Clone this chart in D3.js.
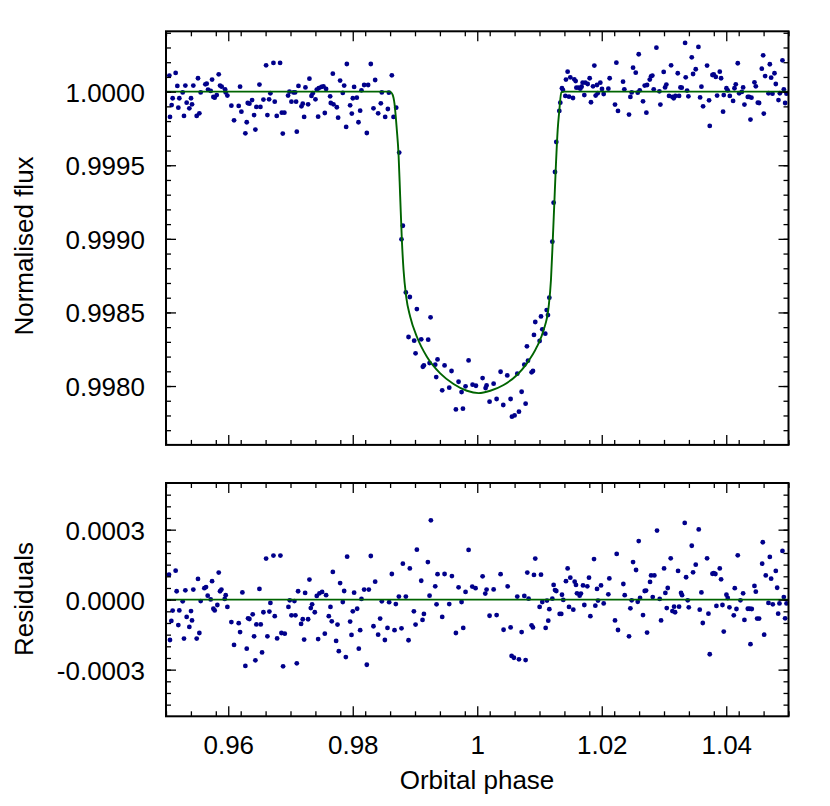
<!DOCTYPE html>
<html>
<head>
<meta charset="utf-8">
<script src="https://cdn.jsdelivr.net/npm/d3@7"></script>
<style>
  body { margin: 0; background: #fff; }
  svg { display: block; }
</style>
</head>
<body>
<div id="chart"></div>
<script>
// light curve, normalised flux vs orbital phase
let fluxPhase = [
  0.95054,0.95064,0.95091,0.95107,0.95155,0.95182,0.95198,0.95214,0.95268,0.95289,
  0.95311,0.95332,0.95375,0.95402,0.95418,0.95439,0.95493,0.95514,0.95536,0.95557,
  0.95632,0.95654,0.95675,0.95718,0.95740,0.95761,0.95782,0.95815,0.95847,0.95868,
  0.95895,0.95949,0.95959,0.95986,0.96050,0.96093,0.96168,0.96190,0.96211,0.96275,
  0.96297,0.96313,0.96340,0.96383,0.96415,0.96436,0.96452,0.96501,0.96517,0.96565,
  0.96608,0.96629,0.96656,0.96677,0.96726,0.96747,0.96779,0.96833,0.96860,0.96876,
  0.96902,0.96961,0.96983,0.97015,0.97047,0.97074,0.97090,0.97101,0.97128,0.97176,
  0.97197,0.97219,0.97240,0.97283,0.97304,0.97337,0.97358,0.97401,0.97422,0.97444,
  0.97454,0.97497,0.97529,0.97551,0.97572,0.97637,0.97647,0.97680,0.97690,0.97744,
  0.97765,0.97797,0.97840,0.97862,0.97894,0.97905,0.97958,0.97985,0.98001,0.98022,
  0.98065,0.98092,0.98119,0.98140,0.98183,0.98226,0.98247,0.98290,0.98333,0.98360,
  0.98408,0.98451,0.98467,0.98521,0.98564,0.98580,0.98628,0.98655,0.98698,
  0.98746,0.98805,0.98783,0.98853,0.98917,0.99030,0.99250,0.98896,0.98987,0.99100,
  0.99212,0.99009,0.99126,0.99143,0.99234,0.99325,0.99362,0.99341,0.99475,0.99437,
  0.99587,0.99550,0.99700,0.99748,0.99657,0.99770,0.99812,0.99861,0.99925,0.99979,
  1.00086,1.00134,1.00150,1.00198,1.00263,1.00311,1.00375,1.00418,1.00482,1.00536,
  1.00557,1.00600,1.00670,1.00643,1.00713,1.00777,1.00756,1.00815,1.00873,1.00895,
  1.00798,1.00911,1.01002,1.00932,1.01045,1.01093,1.01024,1.01115,1.01136,1.01158,
  1.01206,1.01227,1.01249,1.01270,
  1.01318,1.01334,1.01361,1.01377,1.01415,1.01425,1.01452,1.01474,1.01495,1.01538,
  1.01559,1.01581,1.01592,1.01629,1.01656,1.01677,1.01693,1.01720,1.01736,1.01774,
  1.01806,1.01827,1.01860,1.01881,1.01902,1.01924,1.01935,1.01977,1.02004,1.02031,
  1.02106,1.02127,1.02213,1.02235,1.02261,1.02342,1.02363,1.02438,1.02460,1.02481,
  1.02503,1.02546,1.02578,1.02594,1.02610,1.02663,1.02690,1.02717,1.02728,1.02771,
  1.02792,1.02813,1.02835,1.02878,1.02926,1.02942,1.02995,1.03017,1.03038,1.03081,
  1.03114,1.03135,1.03156,1.03183,1.03221,1.03242,1.03264,1.03285,1.03339,1.03349,
  1.03371,1.03392,1.03446,1.03467,1.03510,1.03553,1.03580,1.03601,1.03628,1.03692,
  1.03724,1.03735,1.03778,1.03799,1.03832,1.03853,1.03896,1.03917,1.03949,1.03960,
  1.04003,1.04024,1.04057,1.04110,1.04132,1.04153,1.04185,1.04207,1.04250,1.04271,
  1.04292,1.04346,1.04367,1.04389,1.04405,1.04453,1.04475,1.04507,1.04528,1.04571,
  1.04593,1.04603,1.04625,1.04678,1.04700,1.04721,1.04743,1.04775,1.04796,1.04839,
  1.04861,1.04903,1.04925,1.04946,1.04968
];
let fluxValue = [
  1.000109,0.999828,0.999909,0.999955,1.000127,1.000039,0.999891,0.999955,0.999995,0.999835,
  1.000041,0.999925,0.999887,0.999955,0.999914,1.000041,0.999835,1.000091,0.999853,0.999995,
  1.000050,1.000054,1.000014,1.000005,1.000082,0.999964,0.999959,0.999977,1.000118,1.000041,
  1.000034,1.000016,0.999995,0.999973,0.999905,0.999805,0.999903,1.000034,0.999864,0.999717,
  0.999792,0.999923,0.999918,0.999943,0.999841,0.999742,0.999896,1.000048,0.999896,0.999946,
  1.000179,0.999841,0.999948,0.999989,1.000195,0.999932,0.999835,1.000195,0.999857,0.999715,
  0.999857,0.999973,1.000000,0.999932,0.999995,0.999995,0.999932,0.999728,1.000039,0.999900,
  0.999918,0.999828,1.000029,0.999914,1.000088,0.999971,0.999989,0.999948,1.000014,0.999830,
  1.000023,1.000032,1.000036,0.999855,1.000018,0.999968,0.999923,1.000122,0.999914,0.999894,
  0.999823,1.000075,0.999991,1.000041,0.999760,1.000188,0.999907,0.999851,0.999955,1.000032,
  0.999959,0.999792,0.999871,1.000009,1.000045,0.999719,1.000045,1.000188,0.999887,1.000079,
  0.999853,0.999921,0.999995,0.999828,0.999882,0.999993,1.000111,0.999828,0.999891,
  0.999586,0.999089,0.998997,0.998636,0.998605,0.998523,0.998467,0.998333,0.998308,0.998317,
  0.998315,0.998222,0.998131,0.998140,0.998156,0.998145,0.998181,0.998061,0.998140,0.997971,
  0.998102,0.997989,0.998029,0.997959,0.997841,0.997846,0.997998,0.998174,0.998009,0.998002,
  0.998054,0.997986,0.998004,0.997894,0.998016,0.997912,0.998097,0.997871,0.998072,0.997912,
  0.997792,0.997800,0.997826,0.998084,0.997961,0.997880,0.998145,0.998172,0.998093,0.998102,
  0.998270,0.998347,0.998306,0.998435,0.998385,0.998356,0.998473,0.998516,0.998482,0.998600,
  0.998981,0.999246,0.999454,0.999658,
  0.999869,0.999925,1.000023,1.000011,0.999971,1.000082,1.000136,0.999966,1.000097,0.999957,
  1.000084,1.000072,1.000027,1.000027,1.000020,1.000034,1.000061,0.999977,1.000061,1.000052,
  1.000091,0.999928,1.000036,1.000177,0.999973,1.000045,0.999989,1.000061,1.000018,0.999984,
  1.000020,1.000091,0.999912,1.000197,0.999869,1.000068,1.000016,0.999844,0.999964,0.999995,
  1.000163,1.000129,0.999993,1.000254,1.000009,0.999934,1.000041,0.999857,1.000045,1.000082,
  1.000104,1.000109,1.000016,1.000299,1.000002,0.999912,1.000134,1.000029,1.000048,0.999971,
  1.000179,0.999964,0.999955,0.999971,1.000125,0.999971,1.000029,1.000027,1.000331,1.000097,
  1.000007,0.999968,1.000233,1.000120,1.000152,1.000304,0.999961,1.000034,0.999900,1.000177,
  0.999941,0.999767,1.000113,1.000118,1.000100,0.999973,1.000136,1.000091,0.999864,0.999977,
  1.000023,1.000009,0.999971,0.999937,1.000023,1.000050,1.000193,0.999989,0.999998,1.000029,
  0.999912,0.999964,0.999964,0.999810,0.999959,1.000063,1.000036,0.999925,0.999923,1.000156,
  1.000247,0.999851,1.000106,0.999989,1.000186,1.000095,0.999986,1.000125,1.000052,0.999943,
  0.999989,1.000213,1.000016,0.999923,0.999986
];

// transit model curve
let modelPhase = [0.950, 0.9860, 0.9864, 0.9867, 0.98708, 0.98735, 0.98762, 0.98789, 0.98816,
  0.98858, 0.98923, 0.99030, 0.99191, 0.99405, 0.99619, 0.99834, 1.00021, 1.00209, 1.00423,
  1.00638, 1.00798, 1.00959, 1.01066, 1.01147, 1.01184, 1.01211, 1.01238, 1.01265, 1.01292,
  1.01318, 1.01350, 1.0140, 1.050];
let modelFlux = [1.0, 1.0, 0.99998, 0.99992, 0.99974, 0.999581, 0.999287, 0.998992, 0.998788,
  0.998607, 0.998471, 0.998335, 0.998199, 0.998086, 0.998014, 0.997968, 0.997952, 0.997968, 0.998007,
  0.998075, 0.998154, 0.998267, 0.998380, 0.998539, 0.998720, 0.998969, 0.999241, 0.999513, 0.999740,
  0.999870, 0.999995, 1.0, 1.0];

// residuals (in ppm of flux)
let residPhase = [
  0.95048,0.95064,0.95086,0.95107,0.95155,0.95171,0.95198,0.95214,0.95268,0.95289,
  0.95311,0.95332,0.95375,0.95402,0.95418,0.95439,0.95493,0.95514,0.95536,0.95557,
  0.95616,0.95643,0.95670,0.95718,0.95740,0.95761,0.95782,0.95825,0.95847,0.95868,
  0.95890,0.95943,0.95959,0.95986,0.96050,0.96093,0.96168,0.96190,0.96227,0.96275,
  0.96297,0.96318,0.96340,0.96393,0.96415,0.96436,0.96452,0.96501,0.96522,0.96543,
  0.96565,0.96608,0.96629,0.96661,0.96677,0.96726,0.96747,0.96785,0.96838,0.96854,
  0.96881,0.96908,0.96967,0.96988,0.97015,0.97063,0.97079,0.97101,0.97122,0.97170,
  0.97197,0.97219,0.97235,0.97283,0.97304,0.97326,0.97347,0.97390,0.97422,0.97444,
  0.97465,0.97508,0.97551,0.97572,0.97615,0.97642,0.97663,0.97680,0.97733,0.97755,
  0.97776,0.97797,0.97840,0.97862,0.97889,0.97910,0.97958,0.97980,0.98001,0.98022,
  0.98071,0.98097,0.98119,0.98140,0.98183,0.98226,0.98258,0.98290,0.98333,0.98360,
  0.98408,0.98440,
  0.98467,0.98516,0.98558,0.98585,0.98628,0.98671,0.98692,0.98741,0.98783,0.98805,
  0.98853,0.98896,0.98917,0.98982,0.99009,0.99030,0.99100,0.99121,0.99143,0.99207,
  0.99234,0.99255,0.99325,0.99346,0.99362,0.99437,0.99475,0.99550,0.99593,0.99657,
  0.99700,0.99748,0.99775,0.99812,0.99861,0.99920,0.99973,1.00086,1.00129,1.00150,
  1.00198,1.00263,1.00311,1.00375,1.00423,1.00488,1.00536,1.00552,1.00589,1.00670,
  1.00643,1.00713,1.00756,1.00777,1.00804,1.00825,1.00873,1.00895,1.00911,1.00932,
  1.01002,1.01024,1.01045,1.01099,1.01120,1.01141,1.01158,1.01206,1.01227,1.01249,
  1.01270,1.01324,1.01350,1.01361,1.01382,1.01425,1.01452,1.01474,1.01495,1.01543,
  1.01565,1.01586,1.01602,1.01645,1.01666,1.01699,1.01720,1.01768,1.01795,1.01817,
  1.01876,1.01897,1.01924,1.01940,1.01988,1.02031,1.02106,1.02122,1.02213,1.02240,
  1.02261,1.02347,1.02369,1.02438,1.02460,1.02481,1.02503,1.02551,1.02578,1.02594,
  1.02615,1.02663,1.02690,1.02712,1.02728,1.02776,1.02792,1.02819,1.02845,1.02888,
  1.02931,1.02953,1.03001,1.03022,1.03044,1.03060,1.03108,1.03135,1.03162,1.03178,
  1.03226,1.03242,1.03274,1.03290,1.03333,1.03355,1.03381,1.03398,1.03446,1.03467,
  1.03510,1.03558,1.03574,1.03601,1.03623,1.03692,1.03714,1.03735,1.03778,1.03799,
  1.03826,1.03842,1.03896,1.03917,1.03939,1.03960,1.04003,1.04024,1.04051,1.04121,
  1.04137,1.04164,1.04185,1.04228,1.04271,1.04292,1.04346,1.04378,1.04389,1.04410,
  1.04453,1.04475,1.04496,1.04528,1.04577,1.04587,1.04609,1.04635,1.04678,1.04700,
  1.04721,1.04748,1.04796,1.04818,1.04834,1.04855,1.04903,1.04925,1.04946,1.04968
];
let residPpm = [
  107,-173,-91,-47,124,36,-109,-46,-7,-167,
  40,-74,-117,-49,-89,43,-167,89,-143,-6,
  49,54,17,1,79,-39,-46,-23,116,36,
  43,3,19,-31,-96,-194,-101,-139,31,-284,
  -210,-80,-83,-63,-157,-260,-106,46,-106,-226,
  -54,176,-157,-51,-14,189,-71,-166,189,-143,
  -286,-146,-31,-3,-67,-6,-67,-273,36,-104,
  -84,-171,29,-84,86,-36,-20,-54,16,-169,
  27,33,-146,19,-71,-31,-93,119,-177,-107,
  -221,71,-10,37,-246,184,-94,-151,-50,30,
  -39,-210,-131,3,43,-279,43,187,-114,77,
  -150,-81,
  -7,-173,-121,-11,110,-131,-19,13,-123,154,
  13,-174,134,-50,-107,214,81,-87,-61,161,
  17,340,57,-20,109,-74,110,-19,101,-143,
  53,-10,-121,33,213,56,49,100,26,43,
  -69,44,-66,109,-129,57,-119,-241,-249,-256,
  13,-139,16,-259,116,4,-110,-119,106,176,
  -31,107,-10,-121,-4,-90,-41,4,63,41,
  37,-61,-61,21,-1,79,134,-31,94,-43,
  77,63,27,17,26,61,-23,57,94,-71,
  174,-26,46,-4,61,-16,23,91,-89,196,
  -130,67,19,-157,-37,-3,161,127,-9,251,
  7,-66,37,39,-141,76,104,11,104,296,
  3,-89,134,29,-36,50,177,-49,-30,-54,
  123,-30,29,19,329,96,-3,-33,231,117,
  150,301,-43,31,-100,177,-60,-234,111,114,
  110,-27,134,87,-23,-137,21,7,-33,-67,
  49,-40,190,-3,27,-87,-39,-39,-191,-40,
  59,34,-81,-81,154,246,-150,104,-14,183,
  90,-20,123,51,-60,-16,209,11,-80,-16
];

let residModelPhase = [0.95, 1.05];
let residModelValue = [0, 0];

// axis ticks
let phaseTicks = [0.96, 0.98, 1.0, 1.02, 1.04];
let fluxTicks = [0.9980, 0.9985, 0.9990, 0.9995, 1.0000];
let residTicks = [-0.0003, 0, 0.0003];

let width = 830;
let height = 806;

let x = d3.scaleLinear().domain([0.95, 1.05]).range([166, 788.5]);
let yFlux = d3.scaleLinear().domain([0.9976, 1.00041]).range([444.9, 31.3]);
let yRes = d3.scaleLinear().domain([-0.0005, 0.0005]).range([716.3, 483]);

let fluxData = fluxPhase.map((p, i) => ({ phase: p, value: fluxValue[i] }));
let modelData = modelPhase.map((p, i) => ({ phase: p, value: modelFlux[i] }));
let residData = residPhase.map((p, i) => ({ phase: p, value: residPpm[i] * 1e-6 }));
let residModel = residModelPhase.map((p, i) => ({ phase: p, value: residModelValue[i] }));

let phaseMinor = d3.range(0, 26).map(i => +(0.95 + i * 0.004).toFixed(3));
let fluxMinor = d3.range(0, 28).map(i => +(0.9977 + i * 0.0001).toFixed(4));
let residMinor = d3.range(0, 19).map(i => +(-0.00045 + i * 0.00005).toFixed(5));

const font = "'Liberation Sans', Arial, Helvetica, sans-serif";
const fontSize = 26;

let svg = d3.select("#chart").append("svg")
  .attr("width", width)
  .attr("height", height)
  .style("background", "#fff");

function drawPanel(y, data, model, yMajor, yMinor, yFmt, xLabels) {
  let g = svg.append("g");
  let y0 = y.range()[0], y1 = y.range()[1];

  // points
  g.append("g").selectAll("circle")
    .data(data)
    .enter()
    .append("circle")
    .attr("cx", d => x(d.phase))
    .attr("cy", d => y(d.value))
    .attr("r", 2.4)
    .attr("fill", "#00008b");

  // model line
  g.append("path")
    .datum(model)
    .attr("fill", "none")
    .attr("stroke", "#006400")
    .attr("stroke-width", 1.9)
    .attr("d", d3.line().x(d => x(d.phase)).y(d => y(d.value)).curve(d3.curveMonotoneX));

  // minor ticks, all four sides
  let minorAxes = [
    [d3.axisBottom(x).tickValues(phaseMinor), "translate(0," + y0 + ")"],
    [d3.axisTop(x).tickValues(phaseMinor), "translate(0," + y1 + ")"],
    [d3.axisLeft(y).tickValues(yMinor), "translate(166,0)"],
    [d3.axisRight(y).tickValues(yMinor), "translate(788.5,0)"]
  ];
  minorAxes.forEach(a => {
    g.append("g").attr("transform", a[1])
      .call(a[0].tickSize(-5).tickFormat(""))
      .call(s => s.select(".domain").remove());
  });

  // major ticks
  let bottom = g.append("g").attr("transform", "translate(0," + y0 + ")")
    .call(d3.axisBottom(x).tickValues(phaseTicks).tickSize(-10).tickPadding(19)
      .tickFormat(xLabels ? (d => String(+d.toFixed(2))) : ""));
  g.append("g").attr("transform", "translate(0," + y1 + ")")
    .call(d3.axisTop(x).tickValues(phaseTicks).tickSize(-10).tickFormat(""));
  let left = g.append("g").attr("transform", "translate(166,0)")
    .call(d3.axisLeft(y).tickValues(yMajor).tickSize(-10).tickPadding(21).tickFormat(yFmt));
  g.append("g").attr("transform", "translate(788.5,0)")
    .call(d3.axisRight(y).tickValues(yMajor).tickSize(-10).tickFormat(""));

  g.selectAll(".domain").remove();
  g.selectAll(".tick line").attr("stroke-width", 1.3);
  [bottom, left].forEach(a => a.attr("font-size", fontSize).attr("font-family", font));
  left.selectAll("text").attr("dy", "0.36em");

  // frame
  g.append("rect")
    .attr("x", 166)
    .attr("y", y1)
    .attr("width", 788.5 - 166)
    .attr("height", y0 - y1)
    .attr("fill", "none")
    .attr("stroke", "#000")
    .attr("stroke-width", 2);
}

drawPanel(yFlux, fluxData, modelData, fluxTicks, fluxMinor, d => d.toFixed(4), false);
drawPanel(yRes, residData, residModel, residTicks, residMinor, d => d.toFixed(4), true);

// axis titles
svg.append("text")
  .attr("transform", "translate(33,246) rotate(-90)")
  .attr("text-anchor", "middle")
  .attr("font-family", font)
  .attr("font-size", fontSize)
  .text("Normalised flux");

svg.append("text")
  .attr("transform", "translate(33,599) rotate(-90)")
  .attr("text-anchor", "middle")
  .attr("font-family", font)
  .attr("font-size", fontSize)
  .text("Residuals");

svg.append("text")
  .attr("x", 477)
  .attr("y", 789)
  .attr("text-anchor", "middle")
  .attr("font-family", font)
  .attr("font-size", fontSize)
  .text("Orbital phase");
</script>
</body>
</html>
